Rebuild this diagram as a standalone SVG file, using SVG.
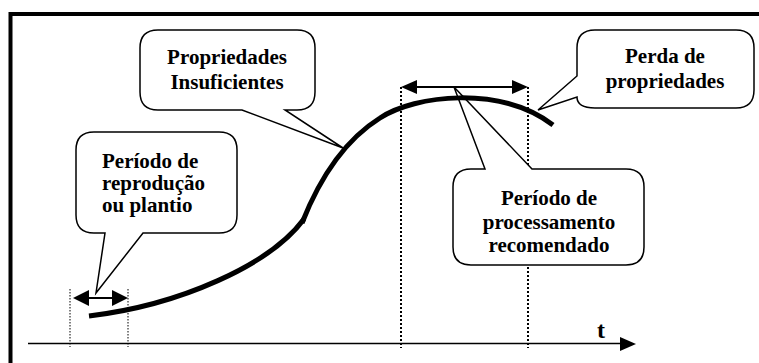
<svg xmlns="http://www.w3.org/2000/svg" width="759" height="363" viewBox="0 0 759 363">
<style>
.callout{fill:#fff;stroke:#000;stroke-width:1.5;stroke-linejoin:miter}
.lbl{font-family:"Liberation Serif","Times New Roman",serif;font-weight:bold;font-size:21px;fill:#000}
.mid{text-anchor:middle}
.dotS{stroke:#000;stroke-width:1;stroke-dasharray:1.5 1.5;fill:none}
.dotB{stroke:#000;stroke-width:2;stroke-dasharray:2 2;fill:none}
.arr{stroke:#000;stroke-width:2;fill:none}
.head{fill:#000;stroke:none}
</style>
<rect x="0" y="0" width="759" height="363" fill="#fff"/>
<rect id="frame" x="10.5" y="14" width="800" height="400" fill="none" stroke="#000" stroke-width="4"/>
<g id="connectors">
  <line class="dotS" x1="70" y1="289" x2="70" y2="347"/>
  <line class="dotS" x1="128" y1="289" x2="128" y2="347"/>
  <line class="dotB" x1="401" y1="87" x2="401" y2="348"/>
  <line class="dotB" x1="528" y1="87" x2="528" y2="348"/>
  <line class="arr" x1="80" y1="298" x2="120" y2="298"/>
  <polygon class="head" points="73,298 89,290 89,306"/>
  <polygon class="head" points="128,298 112,290 112,306"/>
  <line class="arr" x1="408" y1="87" x2="520" y2="87"/>
  <polygon class="head" points="401,87 417,80 417,94"/>
  <polygon class="head" points="528,87 512,80 512,94"/>
  <line x1="28" y1="343.5" x2="622" y2="343.5" stroke="#000" stroke-width="1.5"/>
  <polygon class="head" points="636,344 620,337 620,351"/>
</g>
<g id="node-propriedades">
  <path class="callout" d="M158,30 L297,30 Q315,30 315,48 L315,92 Q315,110 297,110 L285,110 L343,148 L242,110 L158,110 Q140,110 140,92 L140,48 Q140,30 158,30 Z"/>
  <text class="lbl mid" x="227" y="64">Propriedades</text>
  <text class="lbl mid" x="227" y="89">Insuficientes</text>
</g>
<g id="node-reproducao">
  <path class="callout" d="M94,132 L219,132 Q237,132 237,150 L237,215 Q237,233 219,233 L143,233 L96,293 L105,233 L94,233 Q76,233 76,215 L76,150 Q76,132 94,132 Z"/>
  <text class="lbl" x="102" y="168">Período de</text>
  <text class="lbl" x="102" y="190">reprodução</text>
  <text class="lbl" x="102" y="212">ou plantio</text>
</g>
<g id="node-processamento">
  <path class="callout" d="M471,169 L485,169 L454,87 L532,169 L626,169 Q644,169 644,187 L644,247 Q644,265 626,265 L471,265 Q453,265 453,247 L453,187 Q453,169 471,169 Z"/>
  <text class="lbl mid" x="549" y="205">Período de</text>
  <text class="lbl mid" x="549" y="228.5">processamento</text>
  <text class="lbl mid" x="549" y="252">recomendado</text>
</g>
<g id="node-perda">
  <path class="callout" d="M595,30 L736,30 Q754,30 754,48 L754,90 Q754,108 736,108 L595,108 Q577,108 577,97 L538,110 L577,76 L577,48 Q577,30 595,30 Z"/>
  <text class="lbl mid" x="665" y="63">Perda de</text>
  <text class="lbl mid" x="665" y="88">propriedades</text>
</g>
<g id="curve" fill="none" stroke="#000" stroke-width="5">
  <path d="M89,316 C180,305 270,265 304,219"/>
  <path d="M302,223 C317,185 340,143 380,118 C415,95 500,85 553,125"/>
</g>
<text id="axis-label" class="lbl" style="font-size:24px" x="597" y="338">t</text>
</svg>
